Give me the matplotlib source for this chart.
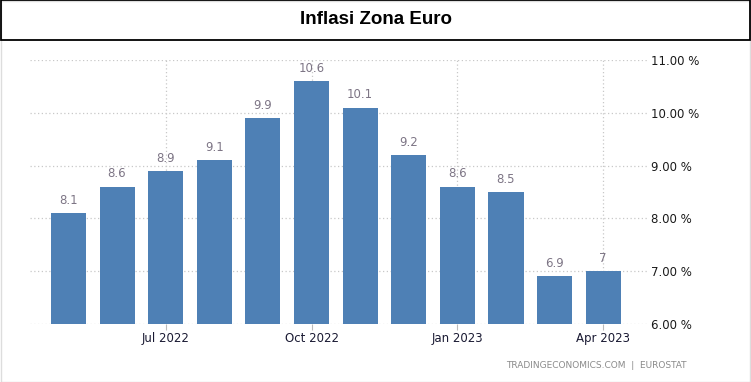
import matplotlib
matplotlib.use("Agg")
import matplotlib.pyplot as plt
from matplotlib.patches import Rectangle
from matplotlib import font_manager

months = ["May 2022", "Jun 2022", "Jul 2022", "Aug 2022", "Sep 2022", "Oct 2022",
          "Nov 2022", "Dec 2022", "Jan 2023", "Feb 2023", "Mar 2023", "Apr 2023"]
values = [8.1, 8.6, 8.9, 9.1, 9.9, 10.6, 10.1, 9.2, 8.6, 8.5, 6.9, 7.0]
value_labels = ["8.1", "8.6", "8.9", "9.1", "9.9", "10.6", "10.1", "9.2", "8.6", "8.5", "6.9", "7"]
xtick_labels = ["Jul 2022", "Oct 2022", "Jan 2023", "Apr 2023"]
ytick_values = [6, 7, 8, 9, 10, 11]

names = {f.name for f in font_manager.fontManager.ttflist}
title_font = "Liberation Sans Narrow" if "Liberation Sans Narrow" in names else "Liberation Sans"

W, H = 751, 382
fig = plt.figure(figsize=(W / 100, H / 100), dpi=100)
fig.patch.set_facecolor("white")

fig.add_artist(Rectangle((0.5 / W, 0.5 / H), (W - 1.5) / W, (H - 1.5) / H,
                         transform=fig.transFigure, fill=False, edgecolor="#dddddd", lw=1))
fig.add_artist(Rectangle((0.5 / W, 1 - 39.5 / H), (W - 1.5) / W, 39 / H,
                         transform=fig.transFigure, fill=False, edgecolor="black", lw=1.3))
fig.text(0.5, 1 - 20 / H, "Inflasi Zona Euro", ha="center", va="center",
         fontsize=13.5, fontweight="bold", family=title_font, color="black")

left, right, top, bottom = 30, 647, 60, 324
ax = fig.add_axes([left / W, 1 - bottom / H, (right - left) / W, (bottom - top) / H])
x = list(range(len(values)))
ax.bar(x, values, width=0.72, color="#4e80b5", zorder=2, bottom=0)
ax.set_ylim(6, 11)
ax.set_xlim(-0.79, 11.9)

for xi, v, lab in zip(x, values, value_labels):
    ax.text(xi, v + 0.12, lab, ha="center", va="bottom", fontsize=8.5,
            color="#7d7585", family="DejaVu Sans")

tick_pos = [months.index(m) for m in xtick_labels]
ax.set_xticks(tick_pos)
ax.set_xticklabels(xtick_labels, fontsize=8.5, color="#1a1a33")
ax.tick_params(axis="x", length=4, color="#bbbbbb", pad=2)
ax.yaxis.tick_right()
ax.set_yticks(ytick_values)
ax.set_yticklabels([f"{v:.2f} %" for v in ytick_values], fontsize=8.5, color="#1a1a1a")
ax.tick_params(axis="y", length=0, pad=3)
ax.grid(True, axis="both", linestyle=(0, (1, 2)), color="#c8c8c8", lw=0.9, zorder=0)
for s in ax.spines.values():
    s.set_visible(False)

fig.text(687 / W, 1 - 366 / H, "TRADINGECONOMICS.COM  |  EUROSTAT", ha="right", va="center",
         fontsize=6.5, color="#8a8a8a")

fig.savefig("out.png", dpi=100, facecolor="white")
